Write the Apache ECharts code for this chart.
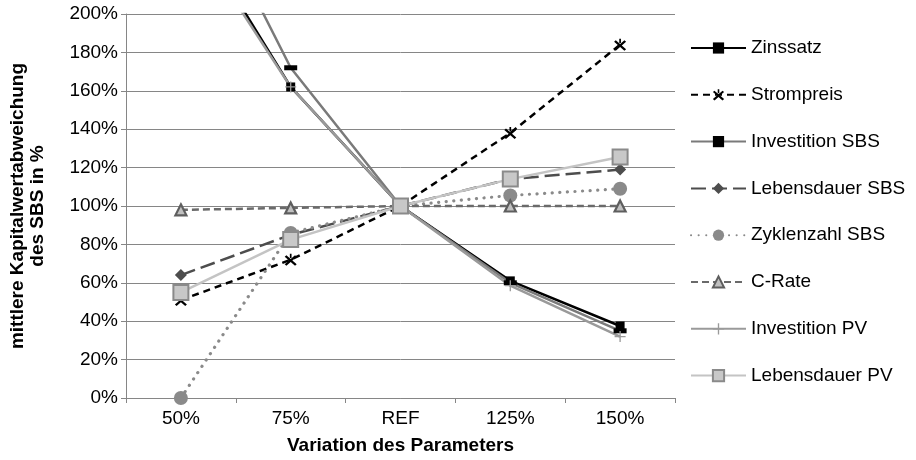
<!DOCTYPE html>
<html>
<head>
<meta charset="utf-8">
<script src="https://cdn.jsdelivr.net/npm/echarts@6/dist/echarts.min.js"></script>
<style>
  html, body { margin: 0; padding: 0; background: #fff; }
  #chart { width: 916px; height: 460px; }
</style>
</head>
<body>
<div id="chart"></div>
<script>
// Sensitivity of the mean net present value deviation of the storage system (SBS)
const categories = ['50%', '75%', 'REF', '125%', '150%'];

const zinssatz        = [255, 162, 100, 61, 37.5];
const strompreis      = [51, 72, 100, 138, 184];
const investitionSBS  = [285, 172, 100, 60, 35];
const lebensdauerSBS  = [64, 85, 100, 114, 119];
const zyklenzahlSBS   = [0, 86, 100, 105.5, 109];
const cRate           = [98, 99, 100, 100, 100];
const investitionPV   = [250, 162, 100, 58.5, 32];
const lebensdauerPV   = [55, 82.5, 100, 114, 125.5];

const yTicks = { min: 0, max: 200, interval: 20 };

const FONT = 'Liberation Sans, Arial, sans-serif';
const FS = 19;

const starX = 'path://M0,1.4 L1.4,0 L5,3.6 L8.6,0 L10,1.4 L6.4,5 L10,8.6 L8.6,10 L5,6.4 L1.4,10 L0,8.6 L3.6,5 Z M4.3,-1.5 L5.7,-1.5 L5.7,2.5 L4.3,2.5 Z';
const plusSym = 'path://M4.4,0 L5.6,0 L5.6,4.4 L10,4.4 L10,5.6 L5.6,5.6 L5.6,10 L4.4,10 L4.4,5.6 L0,5.6 L0,4.4 L4.4,4.4 Z';

function line(name, data, opts) {
  return Object.assign({
    name: name,
    type: 'line',
    data: data,
    clip: true,
    showSymbol: true,
    symbol: 'none',
    animation: false
  }, opts);
}

const series = [
  line('Zinssatz', zinssatz, {
    symbol: 'rect', symbolSize: 9,
    lineStyle: { color: '#000', width: 2.5 },
    itemStyle: { color: '#000' }
  }),
  line('Strompreis', strompreis, {
    symbol: starX, symbolSize: 12,
    lineStyle: { color: '#000', width: 2.5, type: [7, 5] },
    itemStyle: { color: '#000' }
  }),
  line('Investition SBS', investitionSBS, {
    symbol: 'rect', symbolSize: [13, 5],
    lineStyle: { color: '#7a7a7a', width: 2.5 },
    itemStyle: { color: '#000' }
  }),
  line('Lebensdauer SBS', lebensdauerSBS, {
    symbol: 'diamond', symbolSize: 12,
    lineStyle: { color: '#4d4d4d', width: 2.5, type: [15, 6] },
    itemStyle: { color: '#4d4d4d' }
  }),
  line('Zyklenzahl SBS', zyklenzahlSBS, {
    symbol: 'circle', symbolSize: 14,
    lineStyle: { color: '#8a8a8a', width: 3.2, type: [0.1, 7.5], cap: 'round' },
    itemStyle: { color: '#8a8a8a' }
  }),
  line('C-Rate', cRate, {
    symbol: 'triangle', symbolSize: 11,
    lineStyle: { color: '#6a6a6a', width: 2.5, type: [7, 4] },
    itemStyle: { color: '#c0c0c0', borderColor: '#5e5e5e', borderWidth: 2.2 }
  }),
  line('Investition PV', investitionPV, {
    symbol: plusSym, symbolSize: 11,
    lineStyle: { color: '#9a9a9a', width: 2.5 },
    itemStyle: { color: '#9a9a9a' }
  }),
  line('Lebensdauer PV', lebensdauerPV, {
    symbol: 'rect', symbolSize: 15,
    lineStyle: { color: '#c4c4c4', width: 2.5 },
    itemStyle: { color: '#c8c8c8', borderColor: '#8a8a8a', borderWidth: 2 }
  })
];

const chart = echarts.init(document.getElementById('chart'), null, { renderer: 'canvas' });
chart.setOption({
  animation: false,
  backgroundColor: '#fff',
  textStyle: { fontFamily: FONT },
  grid: { left: 121, right: 241, top: 14, bottom: 60, containLabel: false },
  legend: {
    orient: 'vertical',
    left: 690,
    top: 38,
    padding: 0,
    itemWidth: 55,
    itemHeight: 14,
    itemGap: 26.8,
    textStyle: { fontFamily: FONT, fontSize: FS, color: '#000', lineHeight: 20 },
    data: series.map(s => s.name)
  },
  xAxis: {
    type: 'category',
    data: categories,
    boundaryGap: true,
    name: 'Variation des Parameters',
    nameLocation: 'middle',
    nameGap: 38,
    nameTextStyle: { fontFamily: FONT, fontSize: FS, fontWeight: 'bold', color: '#000' },
    axisLine: { lineStyle: { color: '#868686', width: 1 } },
    axisTick: { show: true, length: 5, alignWithLabel: false, lineStyle: { color: '#868686' } },
    axisLabel: { fontFamily: FONT, fontSize: FS, color: '#000', margin: 11 }
  },
  yAxis: {
    type: 'value',
    min: yTicks.min,
    max: yTicks.max,
    interval: yTicks.interval,
    name: 'mittlere Kapitalwertabweichung\ndes SBS in %',
    nameLocation: 'middle',
    nameGap: 78,
    nameRotate: 90,
    nameTextStyle: { fontFamily: FONT, fontSize: FS, fontWeight: 'bold', color: '#000', lineHeight: 20 },
    axisLine: { show: true, lineStyle: { color: '#868686', width: 1 } },
    axisTick: { show: true, length: 5, lineStyle: { color: '#868686' } },
    splitLine: { show: true, lineStyle: { color: '#868686', width: 1 } },
    axisLabel: { fontFamily: FONT, fontSize: FS, color: '#000', margin: 8, formatter: '{value}%' }
  },
  series: series
});
</script>
</body>
</html>
